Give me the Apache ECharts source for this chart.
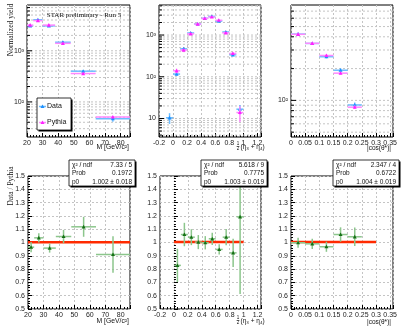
<!DOCTYPE html>
<html>
<head>
<meta charset="utf-8">
<script src="https://cdn.jsdelivr.net/npm/echarts@6/dist/echarts.min.js"></script>
<style>
  html, body { margin: 0; padding: 0; background: #fff; }
  #chart { width: 409px; height: 329px; }
</style>
</head>
<body>
<div id="chart"></div>
<script>
// invariant mass bins
const massLo = [20, 24, 30, 38, 48, 64]
const massHi = [24, 30, 38, 48, 64, 86]
const massData = [3080, 4050, 3070, 1470, 399, 47.1]
const massDataErr = [108, 120, 92, 66, 24, 6]
const massPythia = [3180, 3890, 3180, 1400, 359, 50.8]
const massPythiaErr = [48, 58, 46, 21, 5, 1.5]
const massRatio = [0.965, 1.035, 0.958, 1.045, 1.118, 0.91]
const massRatioErr = [0.038, 0.035, 0.034, 0.05, 0.075, 0.137]

// 1/2 (eta3 + eta4) bins
const etaLo = [-0.1, 0, 0.1, 0.2, 0.3, 0.4, 0.5, 0.6, 0.7, 0.8, 0.9]
const etaHi = [0, 0.1, 0.2, 0.3, 0.4, 0.5, 0.6, 0.7, 0.8, 0.9, 1.0]
const etaData = [10.4, 116, 467, 1120, 1850, 2520, 2800, 2160, 1185, 335, 16.7]
const etaDataErr = [3, 9, 28, 45, 65, 75, 70, 45, 55, 25, 4.4]
const etaPythia = [null, 139, 437, 1070, 1830, 2505, 2705, 2260, 1130, 362, 13.9]
const etaPythiaErr = [null, 17, 26, 43, 64, 75, 70, 45, 50, 27, 5.7]
const etaRatio = [null, 0.828, 1.06, 1.04, 1.003, 0.998, 1.028, 0.948, 1.04, 0.922, 1.193]
const etaRatioErr = [null, 0.125, 0.088, 0.06, 0.053, 0.05, 0.046, 0.038, 0.061, 0.106, 0.58]

// |cos(theta*)| bins
const cosLo = [0, 0.05, 0.1, 0.15, 0.2]
const cosHi = [0.05, 0.1, 0.15, 0.2, 0.25]
const cosData = [424, 346, 259, 193, 90.5]
const cosDataErr = [12, 11, 9, 8, 5]
const cosPythia = [422, 347, 266, 181, 86.2]
const cosPythiaErr = [8, 7, 6, 5, 3]
const cosRatio = [0.998, 0.99, 0.968, 1.06, 1.043]
const cosRatioErr = [0.038, 0.038, 0.038, 0.054, 0.07]

// constant fits to the ratios
const fitP0 = [1.002, 1.003, 1.004]
const fitP0Err = [0.018, 0.019, 0.019]
const fitChi2 = ['7.33 / 5', '5.618 / 9', '2.347 / 4']
const fitProb = ['0.1972', '0.7775', '0.6722']
const fitRange = [[20, 86], [0, 1], [0, 0.3]]

const SANS = '"Liberation Sans", Arial, "DejaVu Sans", sans-serif'
const SERIF = '"Liberation Serif", "Times New Roman", serif'
const C_DATA = '#1e90ff', C_DATA_BAR = '#6cbcff'
const C_PY = '#ff22ff', C_PY_BAR = '#ff88ff'
const C_RAT = '#157015', C_RAT_BAR = '#8cc68c'

const grids = [
  { left: 27, top: 5, width: 103, height: 132 },
  { left: 159, top: 5, width: 102, height: 132 },
  { left: 291, top: 5, width: 102, height: 132 },
  { left: 28, top: 176, width: 102, height: 133 },
  { left: 160, top: 176, width: 101, height: 133 },
  { left: 291, top: 176, width: 102, height: 133 }
].map(g => Object.assign(g, { show: true, borderColor: '#000', borderWidth: 1, backgroundColor: '#fff', outerBoundsMode: 'none' }))

const label = { fontSize: 7, color: '#222', fontFamily: SANS }

function xAx(gi, min, max, interval, minor) {
  return {
    type: 'value', gridIndex: gi, min: min, max: max, interval: interval,
    axisLine: { show: false },
    axisTick: { inside: true, length: 4, lineStyle: { color: '#000' } },
    minorTick: { show: true, splitNumber: minor, length: 2, lineStyle: { color: '#000' } },
    splitLine: { show: true, lineStyle: { color: '#c4c4c4', type: [2, 2] } },
    axisLabel: Object.assign({}, label, {
      margin: 3,
      formatter: v => Math.abs(v / interval - Math.round(v / interval)) < 1e-6 ? String(+v.toFixed(3)) : ''
    })
  }
}

const sup = { 1: '10', 2: '10²', 3: '10³' }
function logAx(gi, min, max) {
  return {
    type: 'log', gridIndex: gi, min: min, max: max, splitNumber: 3,
    axisLine: { show: false }, axisTick: { show: false }, splitLine: { show: false },
    axisLabel: Object.assign({}, label, {
      margin: 3,
      formatter: v => {
        const e = Math.log10(v)
        return Math.abs(e - Math.round(e)) < 1e-6 ? (sup[Math.round(e)] || '') : ''
      }
    })
  }
}

function ratioAx(gi) {
  return {
    type: 'value', gridIndex: gi, min: 0.5, max: 1.5, interval: 0.1,
    axisLine: { show: false },
    axisTick: { inside: true, length: 4, lineStyle: { color: '#000' } },
    minorTick: { show: true, splitNumber: 5, length: 2, lineStyle: { color: '#000' } },
    splitLine: { show: true, lineStyle: { color: '#c4c4c4', type: [2, 2] } },
    axisLabel: Object.assign({}, label, { margin: 3 })
  }
}

// dashed log gridlines + ticks (decades and 2..9 between)
function logGrid(gi, xRef, min, max) {
  const vals = []
  for (let d = Math.floor(Math.log10(min)); d <= Math.ceil(Math.log10(max)); d++) {
    for (let m = 1; m < 10; m++) {
      const v = m * Math.pow(10, d)
      if (v > min && v < max) vals.push([xRef, v, m === 1 ? 1 : 0])
    }
  }
  return {
    type: 'custom', xAxisIndex: gi, yAxisIndex: gi, silent: true, z: 1, data: vals,
    renderItem(params, api) {
      const cs = params.coordSys
      const y = api.coord([api.value(0), api.value(1)])[1]
      return {
        type: 'group', children: [
          { type: 'line', shape: { x1: cs.x, y1: y, x2: cs.x + cs.width, y2: y }, style: { stroke: '#c4c4c4', lineWidth: 1, lineDash: [2, 2] } },
          { type: 'line', shape: { x1: cs.x, y1: y, x2: cs.x + (api.value(2) ? 5 : 3), y2: y }, style: { stroke: '#000', lineWidth: 1 } }
        ]
      }
    }
  }
}

function errSeries(gi, name, lo, hi, val, err, bar, mark, z) {
  const data = []
  lo.forEach((l, i) => {
    if (val[i] != null) data.push([(l + hi[i]) / 2, val[i], (hi[i] - l) / 2, err[i]])
  })
  return {
    type: 'custom', name: name, xAxisIndex: gi, yAxisIndex: gi, z: z, data: data,
    renderItem(params, api) {
      const cs = params.coordSys
      const x = api.value(0), y = api.value(1), hw = api.value(2), e = api.value(3)
      const c = api.coord([x, y])
      const l = api.coord([x - hw, y])[0], r = api.coord([x + hw, y])[0]
      let t = api.coord([x, y + e])[1]
      let b = api.coord([x, Math.max(y - e, y * 0.01)])[1]
      t = Math.max(t, cs.y); b = Math.min(b, cs.y + cs.height)
      const s = 2
      return {
        type: 'group', children: [
          { type: 'line', shape: { x1: l, y1: c[1], x2: r, y2: c[1] }, style: { stroke: bar, lineWidth: 1.5 } },
          { type: 'line', shape: { x1: c[0], y1: t, x2: c[0], y2: b }, style: { stroke: bar, lineWidth: 1.5 } },
          { type: 'polygon', shape: { points: [[c[0], c[1] - s], [c[0] - s, c[1] + s * 0.8], [c[0] + s, c[1] + s * 0.8]] }, style: { fill: mark } }
        ]
      }
    }
  }
}

const series = [
  logGrid(0, 50, 20.6, 7860),
  logGrid(1, 0.5, 3.6, 5250),
  logGrid(2, 0.1, 45, 800),
  errSeries(0, 'Data', massLo, massHi, massData, massDataErr, C_DATA_BAR, C_DATA, 4),
  errSeries(0, 'Pythia', massLo, massHi, massPythia, massPythiaErr, C_PY_BAR, C_PY, 5),
  errSeries(1, 'Data', etaLo, etaHi, etaData, etaDataErr, C_DATA_BAR, C_DATA, 4),
  errSeries(1, 'Pythia', etaLo, etaHi, etaPythia, etaPythiaErr, C_PY_BAR, C_PY, 5),
  errSeries(2, 'Data', cosLo, cosHi, cosData, cosDataErr, C_DATA_BAR, C_DATA, 4),
  errSeries(2, 'Pythia', cosLo, cosHi, cosPythia, cosPythiaErr, C_PY_BAR, C_PY, 5),
  errSeries(3, 'ratio', massLo, massHi, massRatio, massRatioErr, C_RAT_BAR, C_RAT, 5),
  errSeries(4, 'ratio', etaLo, etaHi, etaRatio, etaRatioErr, C_RAT_BAR, C_RAT, 5),
  errSeries(5, 'ratio', cosLo, cosHi, cosRatio, cosRatioErr, C_RAT_BAR, C_RAT, 5)
]
fitP0.forEach((p, i) => {
  series.push({
    type: 'line', xAxisIndex: 3 + i, yAxisIndex: 3 + i, silent: true, z: 3, symbol: 'none',
    data: [[fitRange[i][0], p], [fitRange[i][1], p]],
    lineStyle: { color: '#ff2a00', width: 2.5 }
  })
})

// ROOT-like boxes with a drop shadow
function box(x, y, w, h) {
  return [
    { type: 'rect', shape: { x: x + 1.5, y: y + 1.5, width: w, height: h }, style: { fill: '#000' }, z: 10 },
    { type: 'rect', shape: { x: x, y: y, width: w, height: h }, style: { fill: '#fff', stroke: '#000', lineWidth: 0.8 }, z: 11 }
  ]
}
function txt(x, y, s, opts) {
  return Object.assign({ type: 'text', x: x, y: y, z: 12, style: Object.assign({ text: s, font: '6.5px ' + SANS, fill: '#111', verticalAlign: 'middle' }, opts || {}) })
}

const graphic = []
const statX = [69, 201, 333]
statX.forEach((x, i) => {
  graphic.push(...box(x, 160, 66, 26))
  graphic.push(txt(x + 3, 165, 'χ² / ndf'), txt(x + 63, 165, fitChi2[i], { align: 'right' }))
  graphic.push(txt(x + 3, 173.5, 'Prob'), txt(x + 63, 173.5, fitProb[i], { align: 'right' }))
  graphic.push(txt(x + 3, 182, 'p0'), txt(x + 63, 182, fitP0[i].toFixed(3) + ' ± ' + fitP0Err[i].toFixed(3), { align: 'right' }))
})

// legend
graphic.push(...box(37, 98, 34, 32))
;[['Data', C_DATA, C_DATA_BAR, 106.5], ['Pythia', C_PY, C_PY_BAR, 122.5]].forEach(([n, c, cb, y]) => {
  graphic.push({ type: 'line', z: 12, shape: { x1: 39, y1: y, x2: 46, y2: y }, style: { stroke: cb, lineWidth: 1.5 } })
  graphic.push({ type: 'polygon', z: 13, shape: { points: [[42.5, y - 2], [40.5, y + 1.6], [44.5, y + 1.6]] }, style: { fill: c } })
  graphic.push(txt(47, y, n, { font: '7px ' + SANS }))
})

// titles
graphic.push(txt(84, 15, 'STAR preliminary - Run 5', { font: '7px ' + SERIF, align: 'center' }))
graphic.push({ type: 'text', x: 11, y: 30, rotation: Math.PI / 2, style: { text: 'Normalized yield', font: '7.5px ' + SERIF, fill: '#111', align: 'center', verticalAlign: 'middle' } })
graphic.push({ type: 'text', x: 11, y: 186, rotation: Math.PI / 2, style: { text: 'Data / Pythia', font: '7.5px ' + SERIF, fill: '#111', align: 'center', verticalAlign: 'middle' } })
;[147, 321].forEach(y => {
  graphic.push(txt(129, y, 'M [GeV/c²]', { font: '6.8px ' + SANS, align: 'right' }))
  graphic.push(txt(238, y - 3, '1', { font: '4.5px ' + SANS, align: 'center' }))
  graphic.push({ type: 'line', z: 12, shape: { x1: 236.5, y1: y - 0.5, x2: 239.5, y2: y - 0.5 }, style: { stroke: '#111', lineWidth: 0.5 } })
  graphic.push(txt(238, y + 2, '2', { font: '4.5px ' + SANS, align: 'center' }))
  graphic.push(txt(240.5, y, '(η₃ + η₄)', { font: '6.5px ' + SANS }))
  graphic.push(txt(391, y + 1, '|cos(θ*)|', { font: '6.5px ' + SANS, align: 'right' }))
})

const chart = echarts.init(document.getElementById('chart'))
chart.setOption({
  animation: false,
  backgroundColor: '#fff',
  grid: grids,
  xAxis: [
    xAx(0, 20, 86, 10, 5), xAx(1, -0.2, 1.25, 0.2, 4), xAx(2, 0, 0.36, 0.05, 5),
    xAx(3, 20, 86, 10, 5), xAx(4, -0.2, 1.25, 0.2, 4), xAx(5, 0, 0.36, 0.05, 5)
  ],
  yAxis: [
    logAx(0, 20.6, 7860), logAx(1, 3.6, 5250), logAx(2, 45, 800),
    ratioAx(3), ratioAx(4), ratioAx(5)
  ],
  series: series,
  graphic: graphic
})
</script>
</body>
</html>
